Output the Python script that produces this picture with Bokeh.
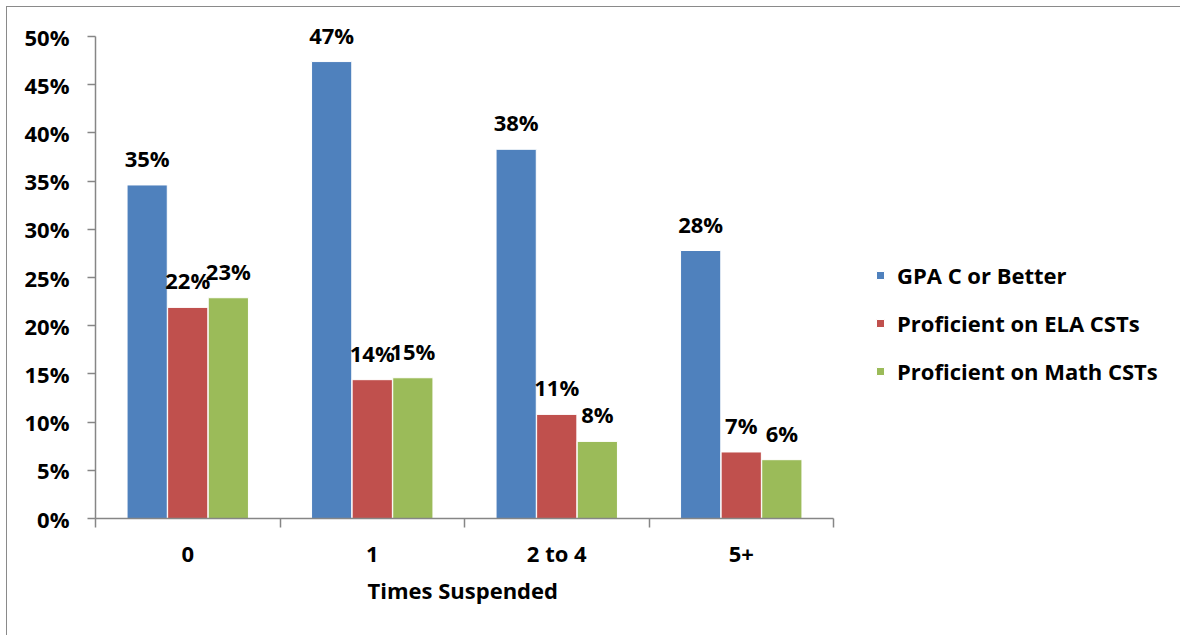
from bokeh.plotting import figure
from bokeh.models import (Range1d, FixedTicker, ColumnDataSource, LabelSet,
                          Legend, LegendItem, Title)
from bokeh.core.properties import value
from bokeh.embed import file_html
from bokeh.resources import INLINE

categories = ["0", "1", "2 to 4", "5+"]
series_names = ["GPA C or Better", "Proficient on ELA CSTs", "Proficient on Math CSTs"]
gpa_c_or_better = [34.6, 47.4, 38.3, 27.8]
proficient_ela = [21.9, 14.4, 10.8, 6.9]
proficient_math = [22.9, 14.6, 8.0, 6.1]
y_ticks = [0, 5, 10, 15, 20, 25, 30, 35, 40, 45, 50]
x_title = "Times Suspended"
colors = ["#4F81BD", "#C0504D", "#9BBB59"]

FONT = "Open Sans"
FS = "22px"
AXIS_COLOR = "#868686"

# layout (pixels)
W, H = 1174, 629
LEFT, TOP, BOTTOM = 88, 7, 118
PLOT_W, PLOT_H = 738, 482          # width of category area, height of 0..50 axis
frame_w = W - LEFT
frame_h = H - TOP - BOTTOM
n = len(categories)
y_max = max(y_ticks)

p = figure(width=W, height=H, output_backend="svg", toolbar_location=None,
           x_range=Range1d(0, n * frame_w / PLOT_W),
           y_range=Range1d(0, y_max * frame_h / PLOT_H),
           min_border_left=LEFT, min_border_right=0, min_border_top=TOP,
           min_border_bottom=BOTTOM, outline_line_color=None)
p.styles = {"margin-left": "6px", "margin-top": "6px",
            "border-left": "1px solid #8a8a8a", "border-top": "1px solid #8a8a8a"}
p.xgrid.visible = False
p.ygrid.visible = False

offsets = [-0.22, 0.0, 0.22]
bar_w = 0.218
all_series = [gpa_c_or_better, proficient_ela, proficient_math]
items = []
for k, (name, vals) in enumerate(zip(series_names, all_series)):
    xs = [i + 0.5 + offsets[k] for i in range(n)]
    src = ColumnDataSource(dict(x=xs, top=vals,
                                lbl=[f"{round(v)}%" for v in vals]))
    r = p.vbar(x="x", top="top", width=bar_w, bottom=0, source=src,
               fill_color=colors[k], line_color="white", line_width=1)
    items.append(LegendItem(label=name, renderers=[r]))
    labels = LabelSet(x="x", y="top", text="lbl", source=src, y_offset=27,
                      text_align="center", text_baseline="middle",
                      text_font=value(FONT), text_font_size=value(FS),
                      text_font_style="bold", text_color="black")
    p.add_layout(labels)

# y axis
yax = p.yaxis[0]
yax.bounds = (0, y_max)
yax.ticker = FixedTicker(ticks=y_ticks)
yax.major_label_overrides = {t: f"{t}%" for t in y_ticks}
yax.major_label_text_font = FONT
yax.major_label_text_font_size = FS
yax.major_label_text_font_style = "bold"
yax.major_label_text_color = "black"
yax.major_label_standoff = 18
yax.major_tick_out = 8
yax.major_tick_in = 0
yax.minor_tick_out = 0
yax.minor_tick_in = 0
yax.axis_line_color = AXIS_COLOR
yax.major_tick_line_color = AXIS_COLOR
yax.axis_line_width = 1.5
yax.major_tick_line_width = 1.5

# x axis
xax = p.xaxis[0]
xax.bounds = (0, n)
centers = [i + 0.5 for i in range(n)]
xax.ticker = FixedTicker(ticks=centers, minor_ticks=list(range(n + 1)))
xax.major_label_overrides = {c: lab for c, lab in zip(centers, categories)}
xax.major_label_text_font = FONT
xax.major_label_text_font_size = FS
xax.major_label_text_font_style = "bold"
xax.major_label_text_color = "black"
xax.major_tick_out = 0
xax.major_tick_in = 0
xax.major_label_standoff = 10
xax.minor_tick_out = 9
xax.minor_tick_in = 0
xax.minor_tick_line_color = AXIS_COLOR
xax.minor_tick_line_width = 1.5
xax.axis_line_color = AXIS_COLOR
xax.axis_line_width = 1.5

# x-axis title, centred under the category area
p.add_layout(Title(text=x_title, align="left", offset=272, standoff=4,
                   text_font=FONT, text_font_size=FS, text_font_style="bold",
                   text_color="black"), "below")

legend = Legend(items=items, location=(780, 132), padding=0, margin=0,
                border_line_color=None, background_fill_alpha=0,
                glyph_width=10, glyph_height=10, label_height=21,
                label_standoff=12, spacing=18,
                label_text_font=FONT, label_text_font_size=FS,
                label_text_font_style="bold", label_text_color="black")
p.add_layout(legend)

open("out.html", "w").write(file_html(p, INLINE))
